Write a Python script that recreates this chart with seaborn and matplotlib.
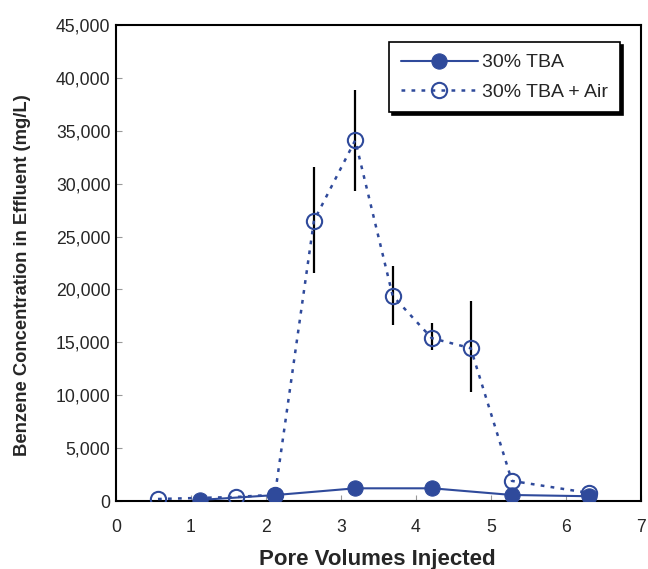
import numpy as np
import pandas as pd
import matplotlib
matplotlib.use("Agg")
import matplotlib.pyplot as plt
import seaborn as sns
from matplotlib.ticker import FuncFormatter

# 数据
pv_tba = [1.12, 2.12, 3.19, 4.22, 5.28, 6.31]
conc_tba = [100, 560, 1200, 1200, 570, 450]

pv_air = [0.56, 1.60, 2.12, 2.64, 3.19, 3.69, 4.21, 4.73, 5.28, 6.31]
conc_air = [190, 380, 600, 26500, 34100, 19400, 15400, 14450, 1900, 760]

# 误差棒 (上下端)
err_pv = [2.64, 3.19, 3.69, 4.21, 4.73]
err_low = [21600, 29300, 16600, 14250, 10300]
err_high = [31550, 38900, 22200, 16800, 18900]

blue = "#2f4a9b"

sns.set_style("white")
plt.rcParams['font.family'] = ['Liberation Sans', 'DejaVu Sans']

df_tba = pd.DataFrame({'pv': pv_tba, 'conc': conc_tba})
df_air = pd.DataFrame({'pv': pv_air, 'conc': conc_air})

fig = plt.figure(figsize=(6.48, 5.69), dpi=100)
ax = fig.add_axes([0.179, 0.1195, 0.81, 0.8365])

ax.vlines(err_pv, err_low, err_high, colors='black', linewidth=1.6, zorder=2)

sns.lineplot(data=df_air, x='pv', y='conc', ax=ax, color=blue, linestyle=(0, (1.5, 2.5)),
             linewidth=1.8, marker='o', markersize=11, markerfacecolor='none',
             markeredgecolor=blue, markeredgewidth=1.5, label='30% TBA + Air', zorder=3)
sns.lineplot(data=df_tba, x='pv', y='conc', ax=ax, color=blue, linestyle='-',
             linewidth=1.5, marker='o', markersize=11, markerfacecolor=blue,
             markeredgecolor=blue, label='30% TBA', zorder=4)

ax.set_xlim(0, 7)
ax.set_ylim(0, 45000)
ax.set_xticks(range(0, 8))
ax.set_yticks(range(0, 45001, 5000))
ax.yaxis.set_major_formatter(FuncFormatter(lambda v, p: f"{int(v):,}"))
ax.tick_params(direction='in', length=4, color='#999999', labelsize=12.7,
               left=True, bottom=True)
ax.tick_params(axis='y', pad=4)
ax.tick_params(axis='x', pad=13)
for s in ax.spines.values():
    s.set_color('black')
    s.set_linewidth(1.5)

ax.set_xlabel('Pore Volumes Injected', fontsize=16, fontweight='bold')
ax.set_ylabel('Benzene Concentration in Effluent (mg/L)', fontsize=13.2, fontweight='bold')
ax.xaxis.set_label_coords(0.497, -0.1)
ax.yaxis.set_label_coords(-0.162, 0.475)

handles, labels = ax.get_legend_handles_labels()
order = [labels.index('30% TBA'), labels.index('30% TBA + Air')]
leg = ax.legend([handles[i] for i in order], [labels[i] for i in order],
                loc='upper right', bbox_to_anchor=(0.96, 0.964), fontsize=14,
                frameon=True, fancybox=False, edgecolor='black', framealpha=1,
                shadow={'color': 'black', 'alpha': 1}, handlelength=4.0,
                borderpad=0.6, labelspacing=0.6, handletextpad=0.2,
                borderaxespad=0)
leg.get_frame().set_linewidth(1.2)

plt.savefig('out.png', dpi=100)
plt.close()
